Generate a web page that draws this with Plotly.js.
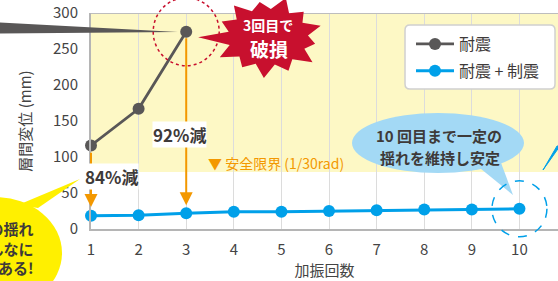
<!DOCTYPE html>
<html><head><meta charset="utf-8">
<script src="https://cdn.plot.ly/plotly-3.0.1.min.js"></script>
<style>html,body{margin:0;padding:0;background:#fff;overflow:hidden}#chart{width:558px;height:281px}</style>
</head><body><div id="chart"></div>
<script>
// ---- data ----
const rounds = [1, 2, 3, 4, 5, 6, 7, 8, 9, 10];
const taishinRounds = [1, 2, 3];
const taishin = [116, 167, 274];              // 耐震
const taishinSeishin = [18.5, 19, 22, 24, 24, 25, 26, 27, 27, 28]; // 耐震 + 制震
const safetyLimit = 79;
const yTicks = [0, 50, 100, 150, 200, 250, 300];
const seriesNames = ['耐震', '耐震 + 制震'];

// ---- layout geometry ----
const W = 558, H = 281, L = 91, R = 558, T = 13, B = 229;
const XR = [1, 10.81], YR = [0, 300];
const xp = px => (px - L) / (R - L);
const yp = py => (B - py) / (B - T);
const dataPx = x => L + (x - XR[0]) / (XR[1] - XR[0]) * (R - L);
const dataPy = y => B - (y - YR[0]) / (YR[1] - YR[0]) * (B - T);
const pt = (px, py) => xp(px).toFixed(4) + ',' + yp(py).toFixed(4);
const poly = pts => 'M' + pts.map(p => pt(p[0], p[1])).join('L') + 'Z';

const FONT = '"Noto Sans CJK JP", "Noto Sans", sans-serif';
const GREY = '#595757', BLUE = '#00a0e9', ORANGE = '#f39800', RED = '#c8102e';

// starburst
function star(cx, cy) {
  const n = 13, pts = [];
  const jitter = [0, 3, -4, 5, -2, 4, -5, 2, -3, 5, -4, 3, -2];
  for (let i = 0; i < n * 2; i++) {
    const a = Math.PI + (i / (n * 2)) * Math.PI * 2 + 0.05;
    const outer = i % 2 === 0;
    let rx = outer ? 53 + jitter[i / 2 | 0] : 40, ry = outer ? 38 + jitter[i / 2 | 0] * 0.6 : 28;
    if (i === 0) { rx = 70; ry = 6; }
    pts.push([cx + rx * Math.cos(a), cy - ry * Math.sin(a)]);
  }
  return poly(pts);
}
function rrect(x0, y0, x1, y1, r) {
  const P = (x, y) => pt(x, y);
  return 'M' + P(x0 + r, y0) + 'L' + P(x1 - r, y0) + 'Q' + P(x1, y0) + ' ' + P(x1, y0 + r) +
    'L' + P(x1, y1 - r) + 'Q' + P(x1, y1) + ' ' + P(x1 - r, y1) +
    'L' + P(x0 + r, y1) + 'Q' + P(x0, y1) + ' ' + P(x0, y1 - r) +
    'L' + P(x0, y0 + r) + 'Q' + P(x0, y0) + ' ' + P(x0 + r, y0) + 'Z';
}
function ellipse(cx, cy, rx, ry, fill, line) {
  return {type: 'circle', xref: 'paper', yref: 'paper', x0: xp(cx - rx), x1: xp(cx + rx),
    y0: yp(cy + ry), y1: yp(cy - ry), fillcolor: fill || 'rgba(0,0,0,0)',
    line: line || {width: 0}, layer: 'above'};
}

const c3x = dataPx(taishinRounds[2]), c3y = dataPy(taishin[2]);
const c10x = dataPx(rounds[9]), c10y = dataPy(taishinSeishin[9]);

const traces = [
  {x: taishinRounds, y: taishin, name: seriesNames[0], type: 'scatter', mode: 'lines+markers',
   line: {color: GREY, width: 2.8}, marker: {color: GREY, size: 12}, legendgroup: 'a', cliponaxis: false},
  {x: rounds, y: taishinSeishin, name: seriesNames[1], type: 'scatter', mode: 'lines+markers',
   line: {color: BLUE, width: 3}, marker: {color: BLUE, size: 12}, legendgroup: 'b', cliponaxis: false}
];

const shapes = [
  {type: 'rect', xref: 'paper', yref: 'y', x0: 0, x1: 1, y0: safetyLimit, y1: YR[1],
   fillcolor: '#fdf8c5', line: {width: 0}, layer: 'below'},
  {type: 'line', xref: 'paper', yref: 'y', x0: 0, x1: 1, y0: YR[1], y1: YR[1],
   line: {color: '#bdbdbd', width: 2}, layer: 'above'},
  // left grey pointer wedge
  {type: 'path', xref: 'paper', yref: 'paper', path: poly([[-2, 22.5], [178, 32], [-2, 33.5]]),
   fillcolor: GREY, line: {width: 0}, layer: 'above'},
  // red dotted circle
  ellipse(c3x, c3y, 33, 34, null, {color: RED, width: 1.5, dash: 'dot'}),
  // starburst
  {type: 'path', xref: 'paper', yref: 'paper', path: star(268, 37), fillcolor: RED,
   line: {width: 0}, layer: 'above'},
  // legend box
  {type: 'path', xref: 'paper', yref: 'paper', path: rrect(405, 25, 555, 89, 5),
   fillcolor: '#ffffff', line: {color: '#d0d0d0', width: 1.5}, layer: 'above'},
  // blue bubble
  {type: 'path', xref: 'paper', yref: 'paper', path: poly([[470, 160], [500, 160], [513, 195]]),
   fillcolor: '#a3d9f5', line: {width: 0}, layer: 'above'},
  ellipse(438, 143, 86, 30, '#a3d9f5'),
  // blue dashed circle
  ellipse(c10x, c10y, 27.5, 28, null, {color: BLUE, width: 1.5, dash: 'dash'}),
  // right blue pointer
  {type: 'path', xref: 'paper', yref: 'paper', path: poly([[543, 170], [557, 146], [560, 146]]),
   fillcolor: BLUE, line: {color: BLUE, width: 1}, layer: 'above'},
  // yellow bubble
  {type: 'path', xref: 'paper', yref: 'paper', path: poly([[18, 205], [80, 179], [38, 208]]),
   fillcolor: '#fff000', line: {width: 0}, layer: 'above'},
  ellipse(-5, 253, 67, 56, '#fff000')
];

const annFont = (size, color, bold) => ({family: FONT, size: size, color: color, weight: bold ? 'bold' : 'normal'});
const txt = (px, py, text, font, extra) => Object.assign({xref: 'paper', yref: 'paper', x: xp(px), y: yp(py),
  xanchor: 'center', yanchor: 'middle', text: text, showarrow: false, font: font, borderpad: 0}, extra || {});
const annotations = [
  // orange arrows
  {xref: 'x', yref: 'y', axref: 'x', ayref: 'y', x: rounds[0], y: taishinSeishin[0] + 12,
   ax: rounds[0], ay: taishin[0] - 8, text: '', showarrow: true, arrowhead: 2, arrowsize: 1.3,
   arrowwidth: 2, arrowcolor: ORANGE, standoff: 0, startstandoff: 0},
  {xref: 'x', yref: 'y', axref: 'x', ayref: 'y', x: rounds[2], y: taishinSeishin[2] + 11,
   ax: rounds[2], ay: taishin[2] - 7, text: '', showarrow: true, arrowhead: 2, arrowsize: 1.3,
   arrowwidth: 2, arrowcolor: ORANGE, standoff: 0, startstandoff: 0},
  txt(111.5, 176.5, '84%減', annFont(17, '#3e3a39', true), {bgcolor: '#ffffff'}),
  txt(179.5, 134, '92%減', annFont(17, '#3e3a39', true), {bgcolor: '#ffffff'}),
  txt(276, 162.5, '▼ 安全限界 (1/30rad)', annFont(14, ORANGE, false)),
  txt(268, 25.5, '3回目で', annFont(14, '#ffffff', true)),
  txt(269, 49, '破損', annFont(19, '#ffffff', true)),
  txt(439, 135, '10 回目まで一定の', annFont(15, '#3e3a39', true)),
  txt(440, 157, '揺れを維持し安定', annFont(15, '#3e3a39', true)),
  txt(35, 247.5, '耐震の揺れ<br>がこんなに<br>減る効果がある!', annFont(15, '#3e3a39', true),
      {xanchor: 'right', align: 'right'})
];

const layout = {
  width: W, height: H,
  margin: {l: L, r: W - R, t: T, b: H - B, pad: 0},
  paper_bgcolor: '#ffffff', plot_bgcolor: 'rgba(0,0,0,0)',
  font: {family: FONT, color: '#444'},
  showlegend: true,
  legend: {x: xp(411), y: yp(27), xanchor: 'left', yanchor: 'top', bgcolor: 'rgba(0,0,0,0)',
    borderwidth: 0, font: {family: FONT, size: 16, color: '#3e3a39'}, traceorder: 'grouped',
    tracegroupgap: 3, itemwidth: 38},
  xaxis: {range: XR, tickvals: rounds, showgrid: true, gridcolor: '#dcdcdc', gridwidth: 1,
    showline: true, linecolor: '#b5b5b5', linewidth: 2, zeroline: false, ticks: '',
    ticklabelstandoff: 6, tickfont: {family: FONT, size: 15, color: '#444'},
    title: {text: '加振回数', font: {family: FONT, size: 15, color: '#444'}, standoff: 6}},
  yaxis: {range: YR, tickvals: yTicks, showgrid: false, showline: true, linecolor: '#b5b5b5',
    linewidth: 2, zeroline: false, ticks: '', ticklabelstandoff: 8,
    tickfont: {family: FONT, size: 15, color: '#444'},
    title: {text: '層間変位 (mm)', font: {family: FONT, size: 15, color: '#444'}, standoff: 18}},
  shapes: shapes,
  annotations: annotations
};

Plotly.newPlot('chart', traces, layout, {displayModeBar: false, staticPlot: true});
</script></body></html>
